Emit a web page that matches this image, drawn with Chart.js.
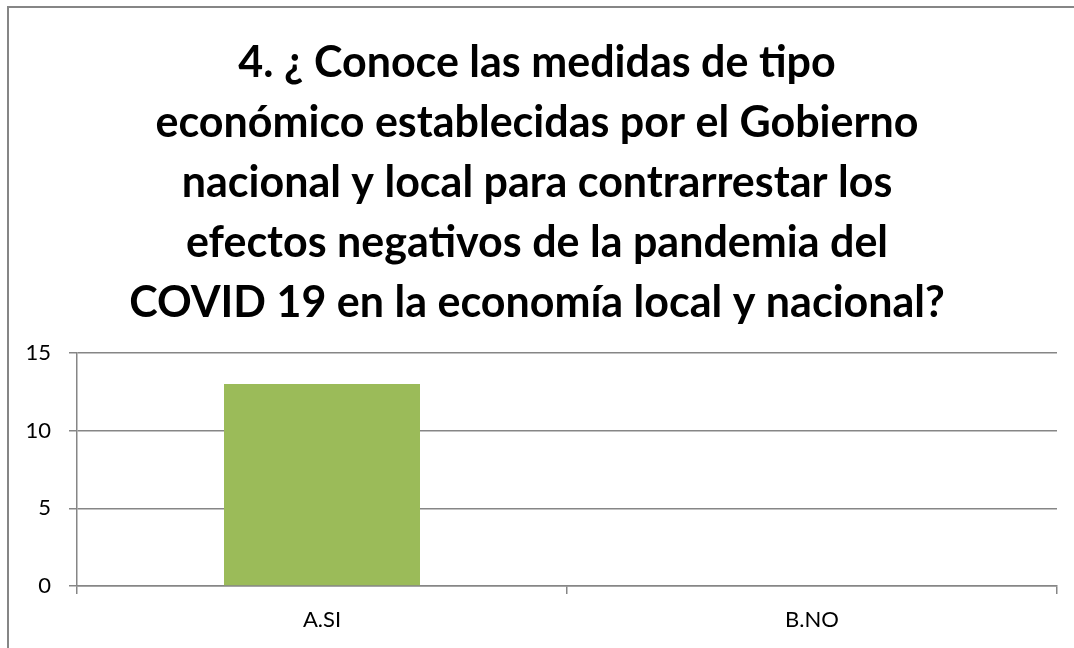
<!DOCTYPE html>
<html>
<head>
<meta charset="utf-8">
<script src="https://cdn.jsdelivr.net/npm/chart.js@4/dist/chart.umd.min.js"></script>
<style>
  body { margin: 0; background: #fff; }
  #wrap { position: absolute; left: 0; top: 0; width: 1074px; height: 648px; }
</style>
</head>
<body>
<div id="wrap"><canvas id="chart" width="1074" height="648"></canvas></div>
<script>
const categories = ['A.SI', 'B.NO'];
const counts = [13, 0];
const titleLines = [
  '4. ¿ Conoce las medidas de tipo',
  'económico establecidas por el Gobierno',
  'nacional y local para contrarrestar los',
  'efectos negativos de la pandemia del',
  'COVID 19 en la economía local y nacional?'
];
const yTicks = [0, 5, 10, 15];

const gray = '#868686';

// frame around the chart (only left and top edges are visible in the picture)
const frame = {
  id: 'frame',
  beforeDraw(chart) {
    const ctx = chart.ctx;
    ctx.save();
    ctx.fillStyle = '#fff';
    ctx.fillRect(0, 0, chart.width, chart.height);
    ctx.strokeStyle = gray;
    ctx.lineWidth = 2;
    ctx.beginPath();
    ctx.moveTo(8, chart.height);
    ctx.lineTo(8, 7);
    ctx.lineTo(chart.width, 7);
    ctx.stroke();
    ctx.restore();
  }
};

const config = {
  type: 'bar',
  data: {
    labels: categories,
    datasets: [{
      label: 'Series1',
      data: counts,
      backgroundColor: '#9BBB59',
      borderWidth: 0,
      barPercentage: 0.4,
      categoryPercentage: 1
    }]
  },
  options: {
    responsive: false,
    animation: false,
    layout: { padding: { left: 17, right: 17, top: 0, bottom: 0 } },
    plugins: {
      legend: { display: false },
      tooltip: { enabled: false },
      title: {
        display: true,
        text: titleLines,
        color: '#000',
        font: { family: 'Lato', size: 43, weight: 'bold', lineHeight: 60 / 43 },
        padding: { top: 33, bottom: 20 }
      }
    },
    scales: {
      x: {
        grid: { display: true, drawOnChartArea: false, drawTicks: true, tickLength: 8, color: gray, lineWidth: 1.5, offset: true },
        border: { display: true, color: gray, width: 1.5 },
        ticks: { color: '#000', font: { family: 'Lato', size: 22 }, padding: 13 },
        afterFit: s => { s.height = 62; }
      },
      y: {
        min: 0,
        max: 15,
        afterBuildTicks: s => { s.ticks = yTicks.map(v => ({ value: v })); },
        grid: { color: gray, lineWidth: 1.5, tickLength: 8 },
        border: { display: true, color: gray, width: 1.5 },
        ticks: { color: '#000', font: { family: 'Lato', size: 22 }, padding: 18 },
        afterFit: s => { s.width = 60; }
      }
    }
  },
  plugins: [frame]
};

new Chart(document.getElementById('chart'), config);
</script>
</body>
</html>
